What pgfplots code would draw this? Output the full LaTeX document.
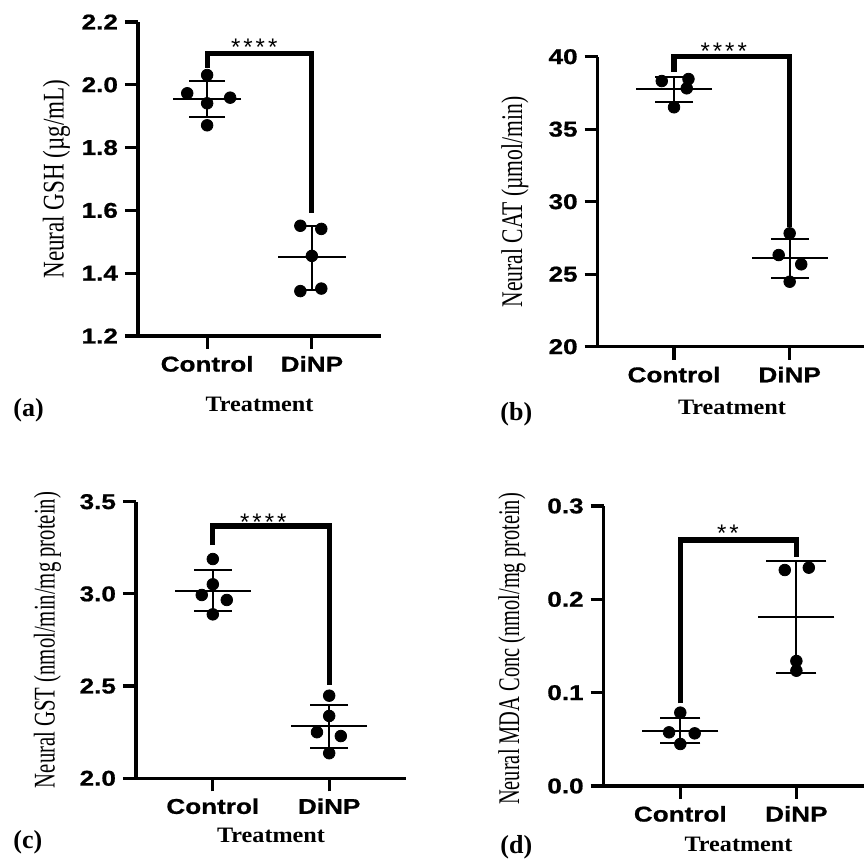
\documentclass[border=0pt]{standalone}
\usepackage{pgfplots}
\pgfplotsset{compat=1.18}
\usepackage{graphicx}
\usepackage{fontspec}
\setmainfont{Liberation Serif}
\newfontfamily\tickfont[FakeStretch=1.22,FakeBold=0.8]{Liberation Sans}
\newfontfamily\trtfont[FakeStretch=1.1]{Liberation Serif}
\newfontfamily\starfont{Liberation Sans}

\pgfplotsset{
  panel/.style={
    scale only axis, anchor=south west, clip=false,
    xmin=-0.66, xmax=1.66,
    axis lines=left, axis line style={-, line width=1.6pt},
    xtick={0,1}, xticklabels={Control,DiNP},
    tick align=outside, major tick length=6.5pt,
    tick style={black, line width=1.6pt},
    tick label style={font=\tickfont\bfseries\fontsize{10.7}{12}\selectfont},
    /pgf/number format/assume math mode=true,
  },
  onedec/.style={yticklabel style={/pgf/number format/.cd, fixed, fixed zerofill, precision=1}},
  meanl/.style={black, only marks, mark=-, mark size=#1, mark options={line width=1.1pt}},
  sdl/.style={black, line width=1.1pt},
  brk/.style={black, line width=2.6pt},
  dots/.style={black, only marks, mark=*, mark size=2.9pt},
}
\newcommand\stars[1]{\starfont\fontsize{12}{12}\selectfont #1}
\newcommand\ylab[4]{\node[rotate=90] at (#1,#2) {\scalebox{#3}[1]{\fontsize{15}{17}\selectfont #4}};}
\newcommand\treat[2]{\node[anchor=base] at (#1,#2) {\trtfont\bfseries\fontsize{11}{13}\selectfont Treatment};}
\newcommand\plab[3]{\node[anchor=base west, inner sep=0pt] at (#1,#2) {\bfseries\fontsize{13}{15}\selectfont #3};}

\begin{document}
\begin{tikzpicture}
\useasboundingbox (0,0) rectangle (432pt,430.5pt);

% (a) GSH
\begin{axis}[panel, onedec, at={(69pt,262.5pt)}, width=121.5pt, height=157pt,
  ymin=1.2, ymax=2.2, ytick={1.2,1.4,1.6,1.8,2.0,2.2}]
\addplot[meanl=17pt] coordinates {(0,1.955) (1,1.451)};
\addplot[sdl] coordinates {(0,1.897) (0,2.013)};
\addplot[sdl] coordinates {(1,1.346) (1,1.550)};
\addplot[meanl=9pt] coordinates {(0,1.897) (0,2.013)};
\addplot[meanl=6pt] coordinates {(1,1.346) (1,1.550)};
\addplot[brk] coordinates {(0,2.053) (0,2.1) (1,2.1) (1,1.592)};
\addplot[dots] coordinates {(-0.19,1.973) (0,2.031) (0.22,1.959) (0,1.941) (0,1.871)
  (0.89,1.551) (1.09,1.541) (1,1.455) (0.89,1.343) (1.09,1.351)};
\node[yshift=-2.3pt] at (axis cs:0.45,2.133) {\stars{*\kern1.5pt*\kern1.5pt*\kern1.5pt*}};
\end{axis}

% (b) CAT
\begin{axis}[panel, at={(298.85pt,257.15pt)}, width=134.15pt, height=145pt,
  ymin=20, ymax=40, ytick={20,25,30,35,40}]
\addplot[meanl=19pt] coordinates {(0,37.79) (1,26.10)};
\addplot[sdl] coordinates {(0,36.90) (0,38.62)};
\addplot[sdl] coordinates {(1,24.76) (1,27.40)};
\addplot[meanl=9.5pt] coordinates {(0,36.90) (0,38.62) (1,24.76) (1,27.40)};
\addplot[brk] coordinates {(0,38.97) (0,40) (1,40) (1,28.28)};
\addplot[dots] coordinates {(-0.106,38.32) (0.125,38.46) (0.11,37.82) (0,36.51)
  (1,27.82) (0.905,26.32) (1.1,25.68) (1,24.48)};
\node[yshift=-2.3pt] at (axis cs:0.43,40.69) {\stars{*\kern1.5pt*\kern1.5pt*\kern1.5pt*}};
\end{axis}

% (c) GST
\begin{axis}[panel, onedec, at={(68pt,41.35pt)}, width=135pt, height=138.3pt,
  ymin=2, ymax=3.5, ytick={2,2.5,3,3.5}]
\addplot[meanl=19pt] coordinates {(0,3.017) (1,2.284)};
\addplot[sdl] coordinates {(0,2.907) (0,3.130)};
\addplot[sdl] coordinates {(1,2.163) (1,2.396)};
\addplot[meanl=9.5pt] coordinates {(0,2.907) (0,3.130) (1,2.163) (1,2.396)};
\addplot[brk] coordinates {(0,3.265) (0,3.368) (1,3.368) (1,2.506)};
\addplot[dots] coordinates {(0,3.189) (0,3.052) (-0.095,2.994) (0.12,2.967) (0,2.889)
  (1,2.448) (1,2.338) (0.895,2.250) (1.1,2.229) (1,2.136)};
\node[yshift=-2.3pt] at (axis cs:0.434,3.415) {\stars{*\kern1.5pt*\kern1.5pt*\kern1.5pt*}};
\end{axis}

% (d) MDA
\begin{axis}[panel, onedec, at={(301.85pt,37.5pt)}, width=134.65pt, height=140pt,
  ymin=0, ymax=0.3, ytick={0,0.1,0.2,0.3}]
\addplot[meanl=19pt] coordinates {(0,0.0593) (1,0.1807)};
\addplot[sdl] coordinates {(0,0.0457) (0,0.0732)};
\addplot[sdl] coordinates {(1,0.1208) (1,0.2411)};
\addplot[meanl=10pt] coordinates {(0,0.0457) (0,0.0732) (1,0.1208)};
\addplot[meanl=15pt] coordinates {(1,0.2411)};
\addplot[brk] coordinates {(0,0.0886) (0,0.2636) (1,0.2636) (1,0.2457)};
\addplot[dots] coordinates {(0,0.0786) (-0.097,0.0575) (0.124,0.0564) (0,0.045)
  (0.9,0.2314) (1.107,0.2339) (1,0.1339) (1,0.1235)};
\node[yshift=-2.3pt] at (axis cs:0.41,0.276) {\stars{*\kern1.5pt*}};
\end{axis}

\ylab{28.25pt}{341pt}{0.77}{Neural GSH (µg/mL)}
\ylab{257.5pt}{329.5pt}{0.72}{Neural CAT (µmol/min)}
\ylab{23.75pt}{110.5pt}{0.69}{Neural GST (nmol/min/mg protein)}
\ylab{256pt}{106pt}{0.68}{Neural MDA Conc (nmol/mg protein)}

\treat{129.75pt}{224.5pt}
\treat{366pt}{223pt}
\treat{135.5pt}{9pt}
\treat{369.25pt}{4.5pt}

\plab{6.5pt}{222pt}{(a)}
\plab{250pt}{220pt}{(b)}
\plab{6.5pt}{6pt}{(c)}
\plab{250pt}{3.5pt}{(d)}
\end{tikzpicture}
\end{document}
